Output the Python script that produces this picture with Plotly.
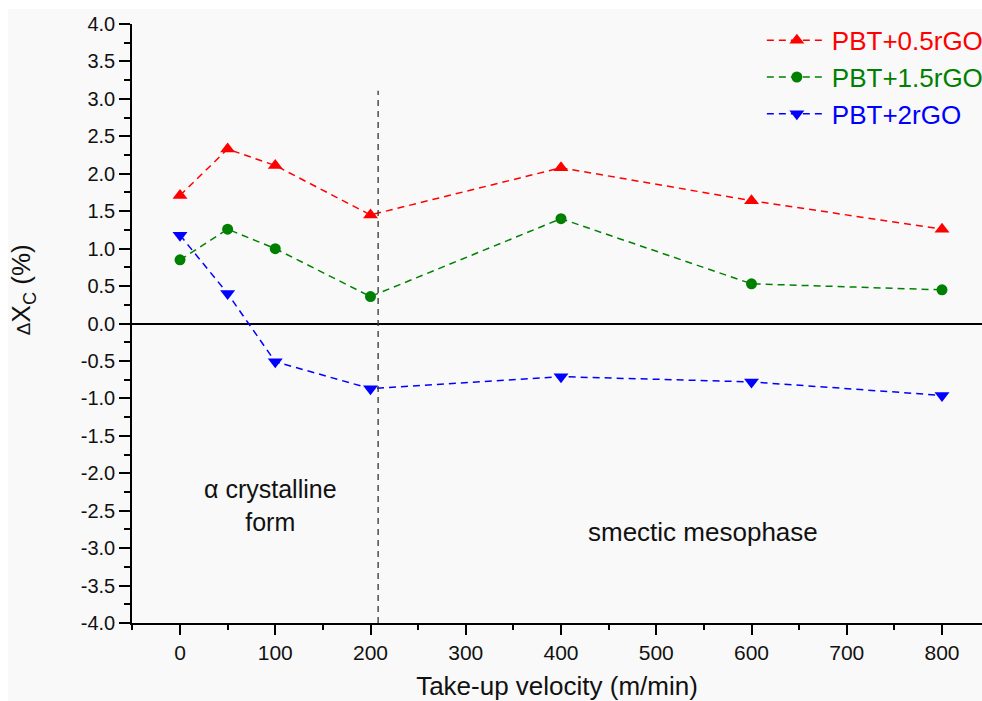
import plotly.graph_objects as go

velocity = [0, 50, 100, 200, 400, 600, 800]
pbt_05 = [1.71, 2.33, 2.11, 1.45, 2.08, 1.64, 1.26]
pbt_15 = [0.85, 1.26, 1.00, 0.36, 1.40, 0.53, 0.45]
pbt_2 = [1.18, 0.40, -0.51, -0.87, -0.71, -0.78, -0.96]

series_names = ["PBT+0.5rGO", "PBT+1.5rGO", "PBT+2rGO"]
series_values = [pbt_05, pbt_15, pbt_2]
series_colors = ["#ff0000", "#008000", "#0000ff"]
series_symbols = ["triangle-up", "circle", "triangle-down"]
series_sizes = [13, 11, 13]

y_ticks = [4.0, 3.5, 3.0, 2.5, 2.0, 1.5, 1.0, 0.5, 0.0, -0.5, -1.0, -1.5, -2.0, -2.5, -3.0, -3.5, -4.0]
x_ticks = [0, 100, 200, 300, 400, 500, 600, 700, 800]
boundary_x = 208
boundary_top = 3.11

FONT = "Liberation Sans, Arial, sans-serif"
TXT = "#111111"

fig = go.Figure()
for name, vals, col, sym, sz in zip(series_names, series_values, series_colors, series_symbols, series_sizes):
    fig.add_trace(go.Scatter(
        x=velocity, y=vals, mode="lines+markers",
        name=f"<span style='color:{col}'>{name}</span>",
        line=dict(color=col, width=1.5, dash="7px,5px"),
        marker=dict(color=col, symbol=sym, size=sz),
    ))

# background panel (white strip at top/left as in the source image)
fig.add_shape(type="rect", xref="paper", yref="paper",
              x0=-0.146, x1=1.0, y0=-0.131, y1=1.025,
              fillcolor="#f9f9f9", line=dict(width=0), layer="below")

fig.add_shape(type="line", xref="x", yref="y",
              x0=boundary_x, x1=boundary_x, y0=-4.0, y1=boundary_top,
              line=dict(color="#333333", width=1.3, dash="6px,5px"))

fig.add_annotation(x=95, y=-2.43, xref="x", yref="y",
                   text="α crystalline<br>form", showarrow=False,
                   font=dict(family=FONT, size=25, color=TXT), align="center")
fig.add_annotation(x=549, y=-2.79, xref="x", yref="y",
                   text="smectic mesophase", showarrow=False,
                   font=dict(family=FONT, size=26, color=TXT))

# y-axis title (placed as in the reference, slightly above axis centre)
fig.add_annotation(x=-0.128, y=0.556, xref="paper", yref="paper",
                   text="<span style='font-size:19px'>Δ</span>X<sub>C</sub> (%)",
                   textangle=-90, showarrow=False, xanchor="center", yanchor="middle",
                   font=dict(family=FONT, size=26, color=TXT))

fig.update_layout(
    width=982, height=701,
    margin=dict(l=132, r=0, t=24, b=78, autoexpand=False),
    paper_bgcolor="white",
    plot_bgcolor="rgba(0,0,0,0)",
    font=dict(family=FONT, color=TXT),
    showlegend=True,
    legend=dict(x=0.741, y=1.012, xanchor="left", yanchor="top",
                bgcolor="rgba(0,0,0,0)", font=dict(family=FONT, size=26),
                itemwidth=60, tracegroupgap=0),
    xaxis=dict(
        range=[-50.4, 842], showgrid=False, zeroline=False,
        showline=True, linecolor="black", linewidth=1.5,
        ticks="outside", ticklen=10, tickwidth=1.5, tickcolor="black",
        tickmode="array", tickvals=x_ticks, ticktext=[str(v) for v in x_ticks],
        tickfont=dict(family=FONT, size=21, color=TXT),
        minor=dict(dtick=50, tick0=0, ticks="outside", ticklen=5, tickwidth=1.5, tickcolor="black", showgrid=False),
        title=dict(text="Take-up velocity (m/min)", font=dict(family=FONT, size=26, color=TXT), standoff=15),
    ),
    yaxis=dict(
        range=[-4.0, 4.0], showgrid=False,
        zeroline=True, zerolinecolor="black", zerolinewidth=1.8,
        showline=True, linecolor="black", linewidth=1.5,
        ticks="outside", ticklen=11, tickwidth=1.5, tickcolor="black",
        tickmode="array", tickvals=y_ticks, ticktext=[f"{v:.1f}" for v in y_ticks],
        tickfont=dict(family=FONT, size=20, color=TXT),
        minor=dict(dtick=0.25, tick0=0, ticks="outside", ticklen=6, tickwidth=1.5, tickcolor="black", showgrid=False),
    ),
)

fig.write_html("out.html")
